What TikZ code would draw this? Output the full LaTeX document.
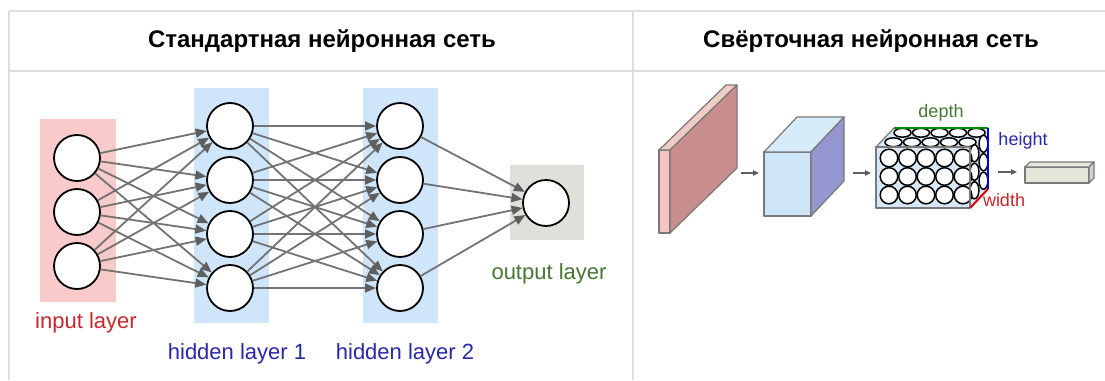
\documentclass[tikz,border=0pt]{standalone}
\usepackage{fontspec}
\setmainfont{Liberation Sans}
\usetikzlibrary{arrows.meta}

\definecolor{gridline}{RGB}{222,222,222}
\definecolor{inbg}{RGB}{249,202,202}
\definecolor{hidbg}{RGB}{207,230,250}
\definecolor{outbg}{RGB}{222,224,218}
\definecolor{wire}{RGB}{115,115,115}
\definecolor{tipc}{RGB}{95,95,95}
\definecolor{inred}{RGB}{200,40,45}
\definecolor{hidblue}{RGB}{40,40,170}
\definecolor{outgreen}{RGB}{70,120,50}
\definecolor{slabfront}{RGB}{246,196,196}
\definecolor{slabtop}{RGB}{240,205,195}
\definecolor{slabside}{RGB}{200,142,142}
\definecolor{cubefront}{RGB}{206,230,248}
\definecolor{cubetop}{RGB}{214,236,250}
\definecolor{cubeside}{RGB}{150,150,208}
\definecolor{volfront}{RGB}{214,232,248}
\definecolor{barfill}{RGB}{226,231,218}
\definecolor{edgegray}{RGB}{120,120,120}

\tikzset{
  neuron/.style={circle,draw=black,line width=1.8pt,fill=white,minimum size=46pt,inner sep=0pt},
  wired/.style={draw=wire,line width=1.8pt,-{Triangle[length=11pt,width=9pt,color=tipc]}},
  layerlabel/.style={font=\fontsize{22}{22}\selectfont},
  headtext/.style={font=\bfseries\fontsize{24}{24}\selectfont},
  faceedge/.style={draw=edgegray,line width=1.2pt,line join=round},
  smallarrow/.style={draw=tipc,line width=1.3pt,-{Triangle[length=6pt,width=5.5pt]}},
  dimlabel/.style={font=\fontsize{18}{18}\selectfont},
  cell/.style={draw=black,line width=1.5pt,fill=white}
}

\begin{document}
\begin{tikzpicture}[x=1pt,y=-1pt]
\useasboundingbox (0,0) rectangle (1105,380);
\fill[white] (0,0) rectangle (1105,380);

% table grid
\draw[gridline,line width=2pt] (9,11) -- (1105,11);
\draw[gridline,line width=2pt] (9,71) -- (1105,71);
\draw[gridline,line width=2pt] (9,11) -- (9,380);
\draw[gridline,line width=2pt] (633,11) -- (633,380);

% headers
\node[headtext] (hleft) at (322,41) {Стандартная нейронная сеть};
\node[headtext] (hright) at (871,41) {Свёрточная нейронная сеть};

% layer backgrounds
\fill[inbg] (40,119) rectangle (116,302);
\fill[hidbg] (194,88) rectangle (269,323);
\fill[hidbg] (363,88) rectangle (438,323);
\fill[outbg] (510,165) rectangle (584,240);

% neurons
\foreach \k/\y in {1/158,2/212,3/266} \node[neuron] (i\k) at (77,\y) {};
\foreach \k/\y in {1/126,2/180,3/234,4/288} \node[neuron] (a\k) at (230,\y) {};
\foreach \k/\y in {1/126,2/180,3/234,4/288} \node[neuron] (b\k) at (400,\y) {};
\node[neuron] (o) at (546,203) {};

% connections
\foreach \s in {1,2,3} \foreach \t in {1,2,3,4} \draw[wired] (i\s) -- (a\t);
\foreach \s in {1,2,3,4} \foreach \t in {1,2,3,4} \draw[wired] (a\s) -- (b\t);
\foreach \s in {1,2,3,4} \draw[wired] (b\s) -- (o);

% layer captions
\node[layerlabel,text=inred] (lin) at (86,323) {input layer};
\node[layerlabel,text=hidblue] (lh1) at (237,354) {hidden layer 1};
\node[layerlabel,text=hidblue] (lh2) at (405,354) {hidden layer 2};
\node[layerlabel,text=outgreen] (lout) at (549,274) {output layer};

% input slab
\filldraw[faceedge,fill=slabfront] (659,150) rectangle (670,233);
\filldraw[faceedge,fill=slabtop] (659,150) -- (726,85) -- (737,85) -- (670,150) -- cycle;
\filldraw[faceedge,fill=slabside] (670,150) -- (737,85) -- (737,168) -- (670,233) -- cycle;

% first feature block
\filldraw[faceedge,fill=cubefront] (764,152) rectangle (811,216);
\filldraw[faceedge,fill=cubetop] (764,152) -- (797,117) -- (844,117) -- (811,152) -- cycle;
\filldraw[faceedge,fill=cubeside] (811,152) -- (844,117) -- (844,181) -- (811,216) -- cycle;

% neuron volume
\fill[volfront] (876,147) rectangle (970,208);
\fill[volfront] (876,147) -- (894,128) -- (988,128) -- (970,147) -- cycle;
\fill[volfront] (970,147) -- (988,128) -- (988,189) -- (970,208) -- cycle;
\foreach \x in {889,907.5,926,944.5,963} {
  \foreach \f in {0.75,0.25} {
    \draw[cell] (\x+18*\f,147-19*\f) ellipse (8.5 and 4.4);
  }
}
\foreach \y in {158,176.5,195} {
  \foreach \f in {0.75,0.25} {
    \draw[cell] (970+18*\f,\y-19*\f) ellipse (4.4 and 8.5);
  }
}
\foreach \x in {889,907.5,926,944.5,963} {
  \foreach \y in {158,176.5,195} {
    \draw[cell] (\x,\y) circle (8.8);
  }
}
\draw[faceedge] (876,147) rectangle (970,208);
\draw[faceedge] (876,147) -- (894,128);
\draw[green!55!black,line width=1.8pt] (894,128) -- (988,128);
\draw[blue!85!black,line width=2pt] (988,128) -- (988,189);
\draw[red!85!black,line width=2pt] (970,208) -- (988,189);
\node[dimlabel,text=outgreen] (ldepth) at (941,113) {depth};
\node[dimlabel,text=hidblue] (lheight) at (1023,141) {height};
\node[dimlabel,text=inred] (lwidth) at (1004,200) {width};

% output bar
\filldraw[faceedge,fill=barfill] (1025,167) rectangle (1089,183);
\filldraw[faceedge,fill=barfill!90!white] (1025,167) -- (1030,162) -- (1094,162) -- (1089,167) -- cycle;
\filldraw[faceedge,fill=barfill!80!gray] (1089,167) -- (1094,162) -- (1094,178) -- (1089,183) -- cycle;

% stage arrows
\coordinate (s1a) at (741,173); \coordinate (s1b) at (759,173);
\coordinate (s2a) at (853,173); \coordinate (s2b) at (871,173);
\coordinate (s3a) at (998,172); \coordinate (s3b) at (1017,172);
\draw[smallarrow] (s1a) -- (s1b);
\draw[smallarrow] (s2a) -- (s2b);
\draw[smallarrow] (s3a) -- (s3b);
\end{tikzpicture}
\end{document}
